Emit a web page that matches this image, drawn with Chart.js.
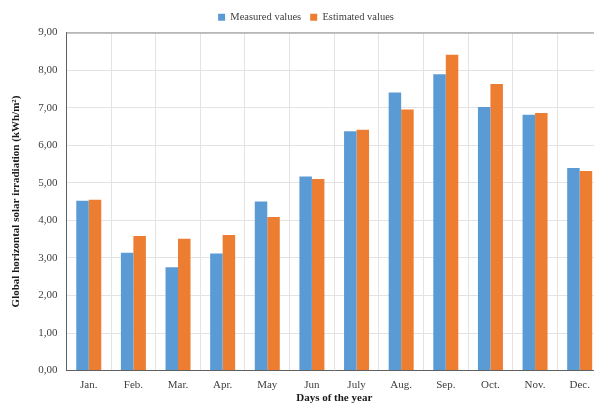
<!DOCTYPE html>
<html>
<head>
<meta charset="utf-8">
<script src="https://cdn.jsdelivr.net/npm/chart.js@4/dist/chart.umd.min.js"></script>
<style>
  html, body { margin: 0; padding: 0; background: #fff; overflow: hidden; }
  #wrap { width: 606px; height: 403px; }
</style>
</head>
<body>
<div id="wrap"><canvas id="c" width="606" height="403"></canvas></div>
<script>
const months = ['Jan.', 'Feb.', 'Mar.', 'Apr.', 'May', 'Jun', 'July', 'Aug.', 'Sep.', 'Oct.', 'Nov.', 'Dec.'];
const measured = [4.52, 3.14, 2.75, 3.12, 4.50, 5.17, 6.37, 7.40, 7.89, 7.02, 6.81, 5.39];
const estimated = [4.55, 3.58, 3.51, 3.61, 4.09, 5.10, 6.41, 6.95, 8.41, 7.63, 6.86, 5.31];
const yTitle = 'Global horizontal solar irradiation (kWh/m\u00B2)';
const xTitle = 'Days of the year';

const serif = '"Liberation Serif", "Times New Roman", serif';

// Thin frame line along the top of the plotting area
const topBorder = {
  id: 'topBorder',
  afterDraw(chart) {
    const { ctx, chartArea } = chart;
    ctx.save();
    ctx.strokeStyle = '#8c8c8c';
    ctx.lineWidth = 1;
    ctx.beginPath();
    ctx.moveTo(chartArea.left, chartArea.top + 0.5);
    ctx.lineTo(chartArea.right, chartArea.top + 0.5);
    ctx.stroke();
    ctx.restore();
  }
};

new Chart(document.getElementById('c'), {
  type: 'bar',
  data: {
    labels: months,
    datasets: [
      { label: 'Measured values', data: measured, backgroundColor: '#5B9BD5', borderWidth: 0 },
      { label: 'Estimated values', data: estimated, backgroundColor: '#ED7D31', borderWidth: 0 }
    ]
  },
  options: {
    responsive: false,
    animation: false,
    layout: { padding: { left: 10, right: 4, top: 3, bottom: 0 } },
    datasets: { bar: { categoryPercentage: 0.56, barPercentage: 1.0 } },
    plugins: {
      legend: {
        position: 'top',
        labels: {
          font: { family: serif, size: 10.5 },
          color: '#404040',
          boxWidth: 7,
          boxHeight: 7,
          padding: 9
        }
      },
      tooltip: { enabled: false }
    },
    scales: {
      x: {
        grid: { display: true, offset: true, color: '#e3e3e3', lineWidth: 1, drawTicks: false },
        border: { display: true, color: '#606060', width: 1 },
        ticks: { font: { family: serif, size: 11 }, color: '#404040', padding: 8, maxRotation: 0 },
        title: { display: true, text: xTitle, font: { family: serif, size: 11, weight: 'bold' }, color: '#1a1a1a', padding: { top: -8, bottom: -2 } }
      },
      y: {
        min: 0,
        max: 9,
        ticks: {
          stepSize: 1,
          font: { family: serif, size: 11 },
          color: '#404040',
          padding: 9,
          callback: v => v.toFixed(2).replace('.', ',')
        },
        grid: { color: '#e3e3e3', lineWidth: 1, drawTicks: false },
        border: { display: true, color: '#606060', width: 1 },
        title: { display: true, text: yTitle, font: { family: serif, size: 11, weight: 'bold' }, color: '#1a1a1a', padding: { top: 0, bottom: 6 } }
      }
    }
  },
  plugins: [topBorder]
});
</script>
</body>
</html>
